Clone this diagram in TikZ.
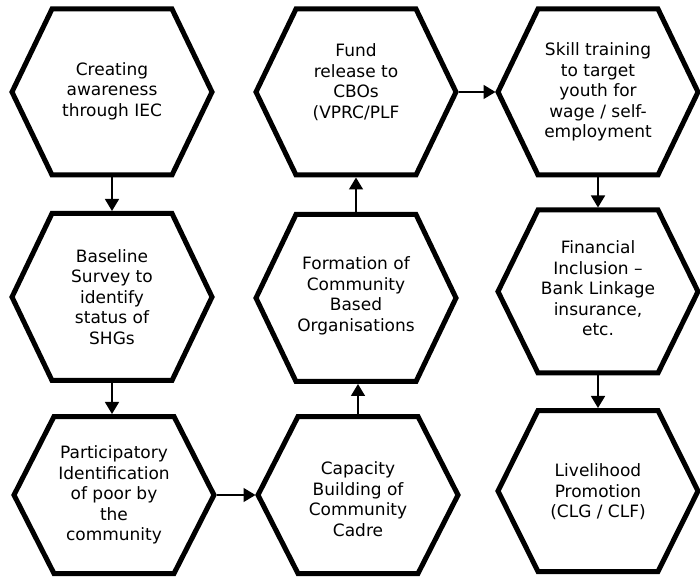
\documentclass[tikz,border=0pt]{standalone}
\usepackage{fontspec}
\setmainfont{DejaVu Sans}
\usetikzlibrary{arrows.meta}
\tikzset{
  hexbox/.style={minimum width=200pt, inner sep=0pt, outer sep=0pt},
  hexline/.style={line width=5pt, line join=miter, draw=black},
  txt/.style={align=center, inner sep=0pt, font=\fontsize{17pt}{20.5pt}\selectfont},
  arr/.style={line width=1.5pt, -{Triangle[length=12pt,width=14pt]}, shorten >=2.5pt, shorten <=2.5pt}
}
\begin{document}
\begin{tikzpicture}[x=1pt,y=1pt]
\useasboundingbox (0,0) rectangle (700,578);
% hexagon frames (named nodes)
\node[hexbox, minimum height=166pt] (c1) at (112,486) {};
\node[hexbox, minimum height=167pt] (bs) at (112,281) {};
\node[hexbox, minimum height=157pt] (pi) at (114,83) {};
\node[hexbox, minimum height=166pt] (fr) at (356,486) {};
\node[hexbox, minimum height=167pt] (fc) at (356,280) {};
\node[hexbox, minimum height=157pt] (cb) at (358,83) {};
\node[hexbox, minimum height=166pt] (st) at (598,486) {};
\node[hexbox, minimum height=163pt] (fi) at (598,286.5) {};
\node[hexbox, minimum height=161pt] (lp) at (598,87) {};
\foreach \n in {c1,bs,pi,fr,fc,cb,st,fi,lp}{
  \draw[hexline] (\n.west) -- ([xshift=40pt]\n.north west) -- ([xshift=-40pt]\n.north east) -- (\n.east) -- ([xshift=-40pt]\n.south east) -- ([xshift=40pt]\n.south west) -- cycle;
}
% texts
\node[txt] (c1t) at ([yshift=1pt]c1.center) {Creating\\awareness\\through IEC};
\node[txt] (bst) at ([yshift=0pt]bs.center) {Baseline\\Survey to\\identify\\status of\\SHGs};
\node[txt] (pit) at ([yshift=0pt]pi.center) {Participatory\\Identification\\of poor by\\the\\community};
\node[txt] (frt) at ([yshift=10pt]fr.center) {Fund\\release to\\CBOs\\(VPRC/PLF};
\node[txt] (fct) at ([yshift=2pt]fc.center) {Formation of\\Community\\Based\\Organisations};
\node[txt] (cbt) at ([yshift=-4pt]cb.center) {Capacity\\Building of\\Community\\Cadre};
\node[txt] (stt) at ([yshift=0pt]st.center) {Skill training\\to target\\youth for\\wage / self-\\employment};
\node[txt] (fit) at ([yshift=3pt]fi.center) {Financial\\Inclusion –\\Bank Linkage\\insurance,\\etc.};
\node[txt] (lpt) at ([yshift=-1pt]lp.center) {Livelihood\\Promotion\\(CLG / CLF)};
% connectors
\draw[arr] (c1.south) -- (bs.north);
\draw[arr] (bs.south) -- (pi.north -| bs.south);
\draw[arr] (pi.east) -- (cb.west);
\draw[arr] (cb.north) -- (fc.south -| cb.north);
\draw[arr] (fc.north) -- (fr.south);
\draw[arr] (fr.east) -- (st.west);
\draw[arr] (st.south) -- (fi.north);
\draw[arr] (fi.south) -- (lp.north);
\end{tikzpicture}
\end{document}
